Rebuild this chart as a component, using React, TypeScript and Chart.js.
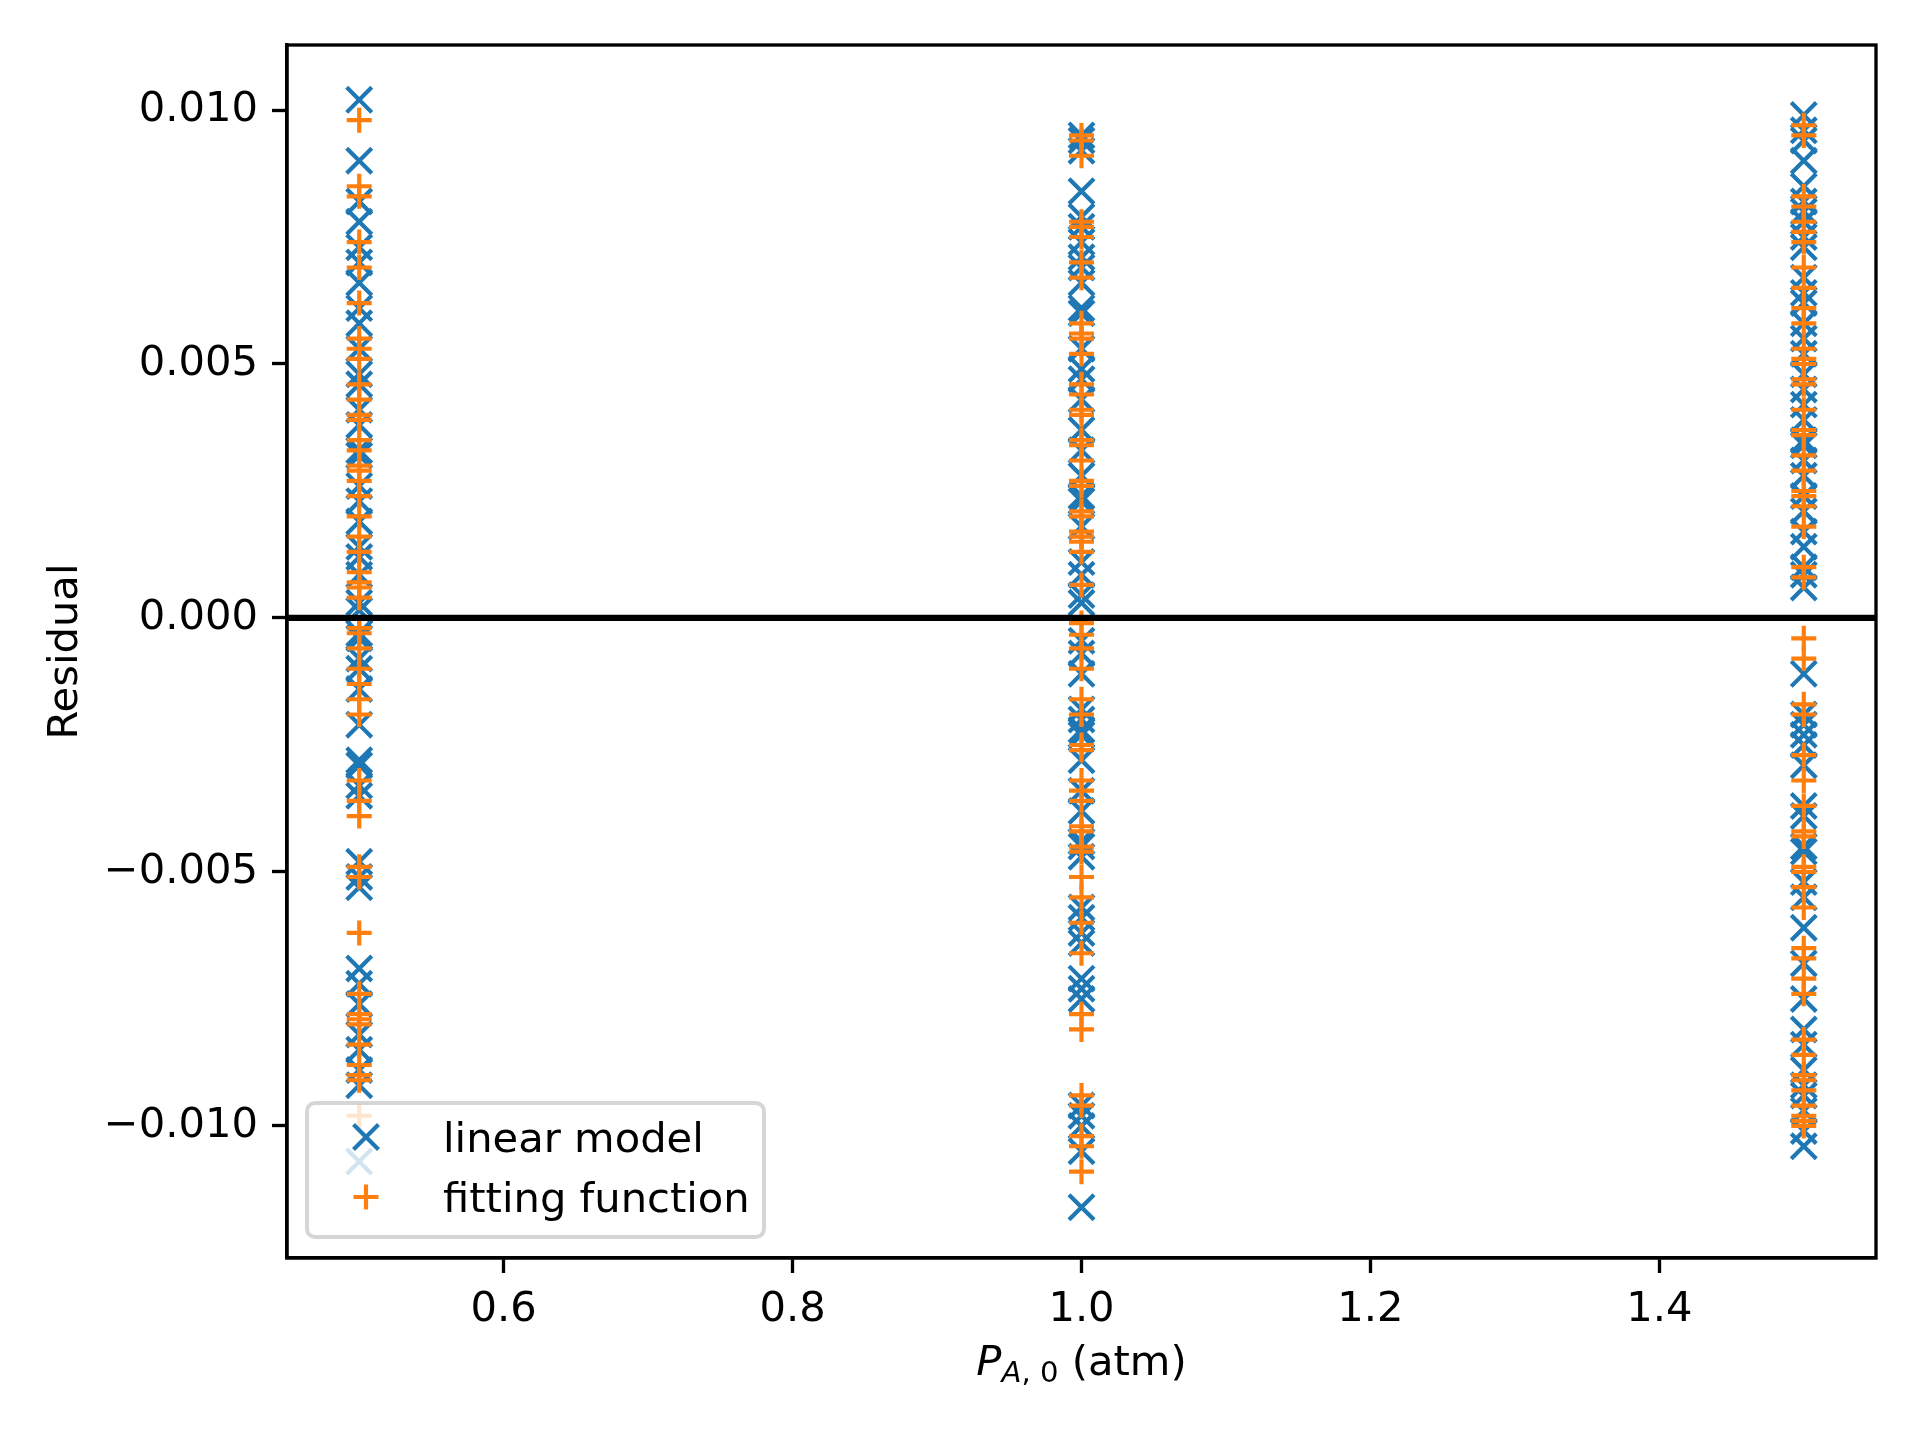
import React, { useEffect, useRef } from 'react';
import { Chart, registerables } from 'chart.js';

Chart.register(...registerables);

// initial pressures (atm) where the residuals were taken
const pressures = [0.5, 1.0, 1.5];

// residuals, linear model (blue x)
const linear05 = [
  0.0102, 0.009, 0.0082, 0.0078, 0.0073, 0.007, 0.0066, 0.0061, 0.0058, 0.0053,
  0.0048, 0.0046, 0.0041, 0.0038, 0.0033, 0.0032, 0.0026, 0.0023, 0.0019, 0.0014,
  0.0012, 0.00085, 0.0003, 0.00015, -0.0003, -0.0004, -0.0008, -0.001, -0.0014,
  -0.0021, -0.0028, -0.0029, -0.0033, -0.0035, -0.0048, -0.0051, -0.0053, -0.0069,
  -0.0072, -0.0076, -0.0082, -0.0085, -0.0089, -0.0092, -0.0107,
];
const linear10 = [
  0.0095, 0.0094, 0.0092, 0.0084, 0.0079, 0.0077, 0.0074, 0.0071, 0.0069, 0.0066,
  0.0061, 0.006, 0.0053, 0.0049, 0.0047, 0.0043, 0.0037, 0.0033, 0.0028, 0.0024,
  0.0023, 0.0018, 0.0011, 0.00085, 0.00045, 0.0003, -0.00045, -0.0007, -0.0011,
  -0.0018, -0.002, -0.0022, -0.0023, -0.0028, -0.0034, -0.0038, -0.0044, -0.0045,
  -0.0047, -0.0057, -0.0059, -0.0062, -0.0064, -0.0071, -0.0073, -0.0075, -0.0096,
  -0.0098, -0.01, -0.0105, -0.0116,
];
const linear15 = [
  0.0099, 0.0096, 0.0094, 0.009, 0.0085, 0.0082, 0.008, 0.0078, 0.0075, 0.0073,
  0.0067, 0.0064, 0.0062, 0.0058, 0.0055, 0.0052, 0.0048, 0.0045, 0.0042, 0.0039,
  0.0035, 0.0034, 0.0031, 0.0028, 0.0024, 0.0021, 0.0017, 0.0014, 0.001, 0.00085,
  0.0006, -0.0011, -0.0019, -0.0021, -0.0023, -0.0025, -0.0029, -0.0037, -0.0039,
  -0.0045, -0.0046, -0.0052, -0.0055, -0.0061, -0.0068, -0.0075, -0.0081, -0.0084,
  -0.0089, -0.0092, -0.0094, -0.0097, -0.0101, -0.0104,
];

// residuals, fitting function (orange +)
const fitting05 = [
  0.0098, 0.0085, 0.0083, 0.0074, 0.0069, 0.0062, 0.0055, 0.0053, 0.0051, 0.0046,
  0.0043, 0.004, 0.0039, 0.0035, 0.0033, 0.003, 0.0029, 0.0027, 0.0024, 0.002,
  0.0016, 0.0013, 0.0009, 0.0007, 0.0006, 0.0004, -0.0002, -0.0003, -0.0006, -0.001,
  -0.0013, -0.0016, -0.0019, -0.0032, -0.0036, -0.0039, -0.0049, -0.0051, -0.0062,
  -0.0074, -0.0078, -0.0079, -0.008, -0.0084, -0.0088, -0.009, -0.0091, -0.0098,
];
const fitting10 = [
  0.0095, 0.0094, 0.0091, 0.0078, 0.0077, 0.0075, 0.007, 0.0067, 0.0058, 0.0056,
  0.0055, 0.0052, 0.0046, 0.0044, 0.0041, 0.004, 0.0035, 0.0034, 0.0031, 0.0027,
  0.0026, 0.0021, 0.002, 0.0017, 0.0016, 0.0015, 0.0013, 0.00065, -0.0001, -0.00033,
  -0.0006, -0.001, -0.0016, -0.0019, -0.0025, -0.0026, -0.0032, -0.0034, -0.0036,
  -0.0041, -0.0042, -0.0045, -0.0046, -0.0051, -0.0055, -0.006, -0.0066, -0.0078,
  -0.0081, -0.0094, -0.0096, -0.0102, -0.0104, -0.0109,
];
const fitting15 = [
  0.0097, 0.0095, 0.0083, 0.0081, 0.0078, 0.0076, 0.0074, 0.0069, 0.0065, 0.0061,
  0.0058, 0.0053, 0.0051, 0.005, 0.0047, 0.0046, 0.0041, 0.0037, 0.0036, 0.0032,
  0.0029, 0.0025, 0.0024, 0.0022, 0.0018, 0.001, 0.0008, -0.0004, -0.0008, -0.0017,
  -0.0019, -0.0027, -0.0032, -0.0037, -0.0042, -0.0043, -0.0049, -0.005, -0.0053,
  -0.0057, -0.0065, -0.0067, -0.0071, -0.0074, -0.0083, -0.0086, -0.009, -0.0091,
  -0.0093, -0.0096, -0.0098, -0.0099, -0.01,
];

const seriesNames = ['linear model', 'fitting function'];
const xTicks = [0.6, 0.8, 1.0, 1.2, 1.4];
const yTicks = [-0.01, -0.005, 0, 0.005, 0.01];

const BLUE = '#1f77b4';
const ORANGE = '#ff7f0e';
const FONT = 'DejaVu Sans';
const FS = 41.67;

const toPoints = (x: number, ys: number[]) => ys.map((y) => ({ x, y }));

const decorPlugin = {
  id: 'decor',
  afterDraw(chart: any) {
    const { ctx, chartArea: ca } = chart;
    ctx.save();

    // axes frame
    ctx.strokeStyle = '#000';
    ctx.lineWidth = 3.33;
    ctx.strokeRect(ca.left, ca.top, ca.right - ca.left, ca.bottom - ca.top);

    // legend (lower left, inside axes)
    const bx = ca.left + 20;
    const bw = 457;
    const bh = 134;
    const by = ca.bottom - 21 - bh;
    const r = 8;
    ctx.beginPath();
    ctx.moveTo(bx + r, by);
    ctx.arcTo(bx + bw, by, bx + bw, by + bh, r);
    ctx.arcTo(bx + bw, by + bh, bx, by + bh, r);
    ctx.arcTo(bx, by + bh, bx, by, r);
    ctx.arcTo(bx, by, bx + bw, by, r);
    ctx.closePath();
    ctx.fillStyle = 'rgba(255,255,255,0.8)';
    ctx.fill();
    ctx.strokeStyle = 'rgba(204,204,204,0.8)';
    ctx.lineWidth = 4;
    ctx.stroke();

    const mx = bx + 59;
    const row1 = by + 34;
    const row2 = by + 94;
    const h = 12.5;
    ctx.lineWidth = 4.17;
    ctx.strokeStyle = BLUE;
    ctx.beginPath();
    ctx.moveTo(mx - h, row1 - h);
    ctx.lineTo(mx + h, row1 + h);
    ctx.moveTo(mx + h, row1 - h);
    ctx.lineTo(mx - h, row1 + h);
    ctx.stroke();
    ctx.strokeStyle = ORANGE;
    ctx.beginPath();
    ctx.moveTo(mx - h, row2);
    ctx.lineTo(mx + h, row2);
    ctx.moveTo(mx, row2 - h);
    ctx.lineTo(mx, row2 + h);
    ctx.stroke();

    ctx.fillStyle = '#000';
    ctx.font = `${FS}px "${FONT}"`;
    ctx.textAlign = 'left';
    ctx.textBaseline = 'alphabetic';
    ctx.fillText(seriesNames[0], bx + 136, row1 + 15);
    ctx.fillText(seriesNames[1], bx + 136, row2 + 15);

    // y axis title
    ctx.save();
    ctx.translate(66, (ca.top + ca.bottom) / 2);
    ctx.rotate(-Math.PI / 2);
    ctx.textAlign = 'center';
    ctx.textBaseline = 'middle';
    ctx.fillText('Residual', 0, 0);
    ctx.restore();

    // x axis title: P_{A,0} (atm)
    const sub = FS * 0.7;
    const fP = `italic ${FS}px "${FONT}"`;
    const fA = `italic ${sub}px "${FONT}"`;
    const fS = `${sub}px "${FONT}"`;
    const fN = `${FS}px "${FONT}"`;
    const parts: [string, string, number][] = [
      ['P', fP, 0],
      ['A', fA, 7],
      [', 0', fS, 7],
      [' (atm)', fN, 0],
    ];
    let total = 0;
    const widths = parts.map(([t, f]) => {
      ctx.font = f;
      const w = ctx.measureText(t).width;
      total += w;
      return w;
    });
    let x = (ca.left + ca.right) / 2 - total / 2;
    const base = ca.bottom + 117;
    parts.forEach(([t, f, dy], i) => {
      ctx.font = f;
      ctx.fillText(t, x, base + dy);
      x += widths[i];
    });

    ctx.restore();
  },
};

export default function App(): React.JSX.Element {
  const canvasRef = useRef<HTMLCanvasElement | null>(null);

  useEffect(() => {
    if (!canvasRef.current) return;
    const tickFont = { family: FONT, size: FS };
    const chart = new Chart(canvasRef.current, {
      type: 'scatter',
      data: {
        datasets: [
          {
            label: seriesNames[0],
            data: [
              ...toPoints(pressures[0], linear05),
              ...toPoints(pressures[1], linear10),
              ...toPoints(pressures[2], linear15),
            ],
            pointStyle: 'crossRot',
            pointRadius: 17.7,
            borderColor: BLUE,
            backgroundColor: BLUE,
            borderWidth: 4.17,
            order: 3,
          },
          {
            label: seriesNames[1],
            data: [
              ...toPoints(pressures[0], fitting05),
              ...toPoints(pressures[1], fitting10),
              ...toPoints(pressures[2], fitting15),
            ],
            pointStyle: 'cross',
            pointRadius: 12.5,
            borderColor: ORANGE,
            backgroundColor: ORANGE,
            borderWidth: 4.17,
            order: 2,
          },
          {
            type: 'line',
            label: 'zero',
            data: [
              { x: 0.45, y: 0 },
              { x: 1.55, y: 0 },
            ],
            borderColor: '#000',
            borderWidth: 6.25,
            pointRadius: 0,
            order: 1,
          } as any,
        ],
      },
      options: {
        animation: false,
        responsive: true,
        maintainAspectRatio: false,
        devicePixelRatio: 1,
        events: [],
        layout: { padding: { left: 0, right: 44, top: 45, bottom: 0 } },
        plugins: { legend: { display: false }, tooltip: { enabled: false } },
        scales: {
          x: {
            type: 'linear',
            min: 0.45,
            max: 1.55,
            afterBuildTicks: (scale: any) => {
              scale.ticks = xTicks.map((v) => ({ value: v }));
            },
            afterFit: (scale: any) => {
              scale.height = 182;
            },
            ticks: {
              font: tickFont,
              color: '#000',
              padding: 12,
              maxRotation: 0,
              autoSkip: false,
              callback: (v: any) => Number(v).toFixed(1),
            },
            grid: {
              drawOnChartArea: false,
              tickLength: 15,
              tickWidth: 3.33,
              tickColor: '#000',
            },
            border: { color: '#000', width: 3.33 },
          },
          y: {
            type: 'linear',
            min: -0.0126,
            max: 0.01128,
            afterBuildTicks: (scale: any) => {
              scale.ticks = yTicks.map((v) => ({ value: v }));
            },
            afterFit: (scale: any) => {
              scale.width = 287;
            },
            ticks: {
              font: tickFont,
              color: '#000',
              padding: 14,
              autoSkip: false,
              callback: (v: any) => {
                const n = Number(v);
                const s = Math.abs(n).toFixed(3);
                return n < -1e-12 ? '\u2212' + s : s;
              },
            },
            grid: {
              drawOnChartArea: false,
              tickLength: 15,
              tickWidth: 3.33,
              tickColor: '#000',
            },
            border: { color: '#000', width: 3.33 },
          },
        },
      },
      plugins: [decorPlugin],
    });
    return () => chart.destroy();
  }, []);

  return (
    <div
      style={{
        position: 'fixed',
        left: 0,
        top: 0,
        width: 1920,
        height: 1440,
        background: '#fff',
      }}
    >
      <canvas ref={canvasRef} />
    </div>
  );
}
